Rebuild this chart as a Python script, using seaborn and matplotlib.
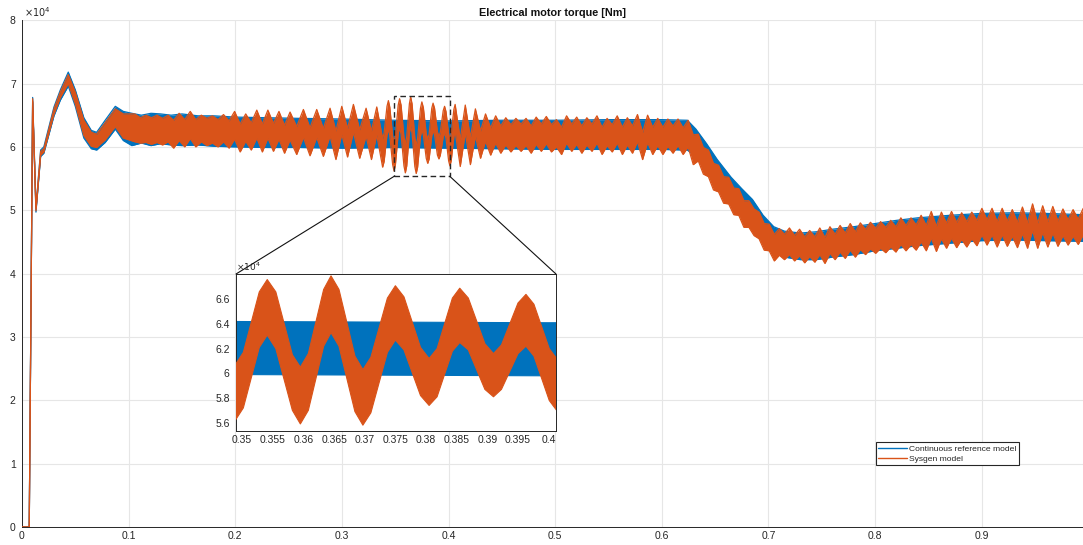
"""
Electrical motor torque: continuous reference model vs Sysgen model,
with a zoomed inset around t = 0.35 .. 0.40 s.

Output
------
out.png
"""

# =============================================================================
# IMPORTS
# =============================================================================

import matplotlib
matplotlib.use("Agg")
import matplotlib.pyplot as plt
from matplotlib.patches import Rectangle, ConnectionPatch
import seaborn as sns

# =============================================================================
# DATA  (torque in units of 1e4 Nm)
# The signals are dense ripples, so each one is kept as the upper / lower
# edge of its band at a set of knot times (crests and troughs of the beat).
# =============================================================================

# Continuous reference model (blue)
ref_t = [
    0.0000, 0.0068, 0.0100, 0.0131, 0.0175, 0.0205, 0.0300, 0.0360,
    0.0434, 0.0500, 0.0580, 0.0650, 0.0700, 0.0780, 0.0875, 0.0950,
    0.1030, 0.1120, 0.1210, 0.1300, 0.1400, 0.1500, 0.1650, 0.1800,
    0.2000, 0.2300, 0.2600, 0.3000, 0.3500, 0.4000, 0.4500, 0.5000,
    0.5500, 0.6000, 0.6240, 0.6320, 0.6420, 0.6520, 0.6650, 0.6750,
    0.6850, 0.6950, 0.7050, 0.7150, 0.7300, 0.7450, 0.7600, 0.7800,
    0.8000, 0.8200, 0.8400, 0.8700, 0.9000, 0.9300, 0.9600, 0.9950,
]
ref_hi = [
    0.00, 0.00, 6.78, 5.05, 5.95, 6.00, 6.63, 6.90,
    7.18, 6.90, 6.46, 6.26, 6.23, 6.42, 6.64, 6.56,
    6.53, 6.50, 6.53, 6.52, 6.50, 6.52, 6.49, 6.49,
    6.47, 6.46, 6.45, 6.44, 6.42, 6.41, 6.42, 6.42,
    6.43, 6.43, 6.42, 6.28, 6.05, 5.80, 5.52, 5.34,
    5.17, 4.92, 4.74, 4.67, 4.64, 4.66, 4.70, 4.74,
    4.79, 4.84, 4.88, 4.92, 4.95, 4.96, 4.95, 4.93,
]
ref_lo = [
    0.00, 0.00, 6.70, 4.97, 5.85, 5.90, 6.49, 6.74,
    6.96, 6.64, 6.14, 5.97, 5.95, 6.07, 6.28, 6.10,
    6.02, 6.06, 6.02, 6.05, 6.03, 6.02, 6.03, 6.01,
    6.00, 5.99, 5.99, 5.98, 5.99, 5.98, 5.97, 5.96,
    5.96, 5.96, 5.95, 5.84, 5.62, 5.36, 5.08, 4.93,
    4.78, 4.50, 4.33, 4.26, 4.22, 4.22, 4.26, 4.30,
    4.36, 4.40, 4.44, 4.48, 4.52, 4.53, 4.52, 4.51,
]

# Sysgen model (orange)
sg_t = [
    0.0000, 0.0068, 0.0100, 0.0131, 0.0175, 0.0205, 0.0300, 0.0360,
    0.0434, 0.0500, 0.0580, 0.0650, 0.0700, 0.0780, 0.0875, 0.0950,
    0.1058, 0.1110, 0.1162, 0.1214, 0.1266, 0.1318, 0.1370, 0.1422, 0.1474, 0.1526,
    0.1578, 0.1630, 0.1682, 0.1734, 0.1786, 0.1838, 0.1890, 0.1942, 0.1994, 0.2046,
    0.2098, 0.2150, 0.2202, 0.2254, 0.2306, 0.2358, 0.2410, 0.2462, 0.2514, 0.2576,
    0.2639, 0.2701, 0.2764, 0.2826, 0.2889, 0.2944, 0.2999, 0.3053, 0.3108, 0.3167,
    0.3227, 0.3277,
    0.3327, 0.3382, 0.3396, 0.3423, 0.3436, 0.3449, 0.3476, 0.3489, 0.3502, 0.3528,
    0.3541, 0.3555, 0.3582, 0.3595, 0.3608, 0.3633, 0.3645, 0.3658, 0.3684, 0.3697,
    0.3710, 0.3737, 0.3750, 0.3764, 0.3791, 0.3805, 0.3818, 0.3843, 0.3855, 0.3869,
    0.3896, 0.3910, 0.3923, 0.3950, 0.3963, 0.3976, 0.4001, 0.4013, 0.4025, 0.4050,
    0.4062,
    0.4110, 0.4157, 0.4205, 0.4252, 0.4300, 0.4347, 0.4395, 0.4442, 0.4490, 0.4537,
    0.4585, 0.4632, 0.4680, 0.4727, 0.4775, 0.4822, 0.4870, 0.4917, 0.4965, 0.5012,
    0.5060, 0.5107, 0.5155, 0.5202, 0.5250, 0.5297, 0.5345, 0.5392, 0.5440, 0.5487,
    0.5535, 0.5582, 0.5630, 0.5677, 0.5725, 0.5772, 0.5820, 0.5867, 0.5915, 0.5962,
    0.6010, 0.6057, 0.6105, 0.6152, 0.6200, 0.6247,
    0.6295, 0.6342, 0.6390, 0.6437, 0.6485, 0.6532, 0.6580, 0.6627, 0.6675, 0.6722,
    0.6770, 0.6817, 0.6865, 0.6912, 0.6960, 0.7007, 0.7055, 0.7102, 0.7150, 0.7197,
    0.7245, 0.7292, 0.7340, 0.7387, 0.7435, 0.7482, 0.7530, 0.7577, 0.7625, 0.7672,
    0.7720, 0.7767, 0.7815, 0.7862, 0.7910, 0.7957, 0.8005, 0.8052, 0.8100, 0.8147,
    0.8195, 0.8242, 0.8290, 0.8337, 0.8385, 0.8432, 0.8480, 0.8527, 0.8575, 0.8622,
    0.8670, 0.8717, 0.8765, 0.8812, 0.8860, 0.8907, 0.8955, 0.9002, 0.9050, 0.9097,
    0.9145, 0.9192, 0.9240, 0.9287, 0.9335, 0.9382, 0.9430, 0.9477, 0.9525, 0.9572,
    0.9620, 0.9667, 0.9715, 0.9762, 0.9810, 0.9857, 0.9905, 0.9952,
]
sg_hi = [
    0.00, 0.00, 6.76, 5.03, 5.93, 5.97, 6.60, 6.87,
    7.14, 6.86, 6.42, 6.23, 6.20, 6.38, 6.60, 6.52,
    6.52, 6.46, 6.50, 6.46, 6.50, 6.45, 6.50, 6.42, 6.53, 6.43,
    6.56, 6.43, 6.50, 6.45, 6.49, 6.43, 6.51, 6.41, 6.56, 6.36,
    6.52, 6.38, 6.58, 6.36, 6.58, 6.37, 6.56, 6.34, 6.55, 6.32,
    6.59, 6.30, 6.59, 6.29, 6.61, 6.25, 6.64, 6.29, 6.67, 6.27,
    6.61, 6.25,
    6.63, 6.13, 6.22, 6.64, 6.73, 6.63, 6.17, 6.07, 6.17, 6.66,
    6.76, 6.66, 6.15, 6.05, 6.16, 6.68, 6.79, 6.68, 6.14, 6.03,
    6.13, 6.61, 6.71, 6.62, 6.21, 6.12, 6.20, 6.61, 6.69, 6.61,
    6.24, 6.16, 6.23, 6.57, 6.64, 6.56, 6.20, 6.12, 6.20, 6.59,
    6.67,
    6.12, 6.66, 6.15, 6.60, 6.25, 6.52, 6.30, 6.49, 6.33, 6.46,
    6.35, 6.45, 6.36, 6.45, 6.33, 6.47, 6.36, 6.48, 6.35, 6.43,
    6.31, 6.49, 6.36, 6.47, 6.33, 6.46, 6.36, 6.49, 6.31, 6.45,
    6.35, 6.49, 6.31, 6.46, 6.33, 6.51, 6.23, 6.50, 6.31, 6.45,
    6.31, 6.44, 6.33, 6.44, 6.30, 6.42,
    6.19, 6.20, 5.99, 5.95, 5.74, 5.71, 5.53, 5.52, 5.35, 5.34,
    5.15, 5.15, 5.02, 4.97, 4.79, 4.78, 4.62, 4.71, 4.62, 4.72,
    4.60, 4.70, 4.58, 4.68, 4.58, 4.72, 4.57, 4.74, 4.62, 4.76,
    4.64, 4.79, 4.66, 4.80, 4.70, 4.81, 4.72, 4.82, 4.73, 4.84,
    4.74, 4.88, 4.76, 4.88, 4.77, 4.92, 4.76, 4.98, 4.75, 4.97,
    4.80, 4.98, 4.81, 4.96, 4.82, 4.97, 4.84, 5.03, 4.85, 5.03,
    4.82, 5.03, 4.83, 5.01, 4.81, 5.05, 4.80, 5.10, 4.80, 5.07,
    4.82, 5.06, 4.83, 5.02, 4.85, 5.01, 4.86, 5.03,
]
sg_lo = [
    0.00, 0.00, 6.72, 4.99, 5.87, 5.92, 6.52, 6.78,
    7.00, 6.68, 6.18, 6.01, 5.99, 6.11, 6.32, 6.14,
    6.08, 6.06, 6.07, 6.04, 6.07, 6.03, 6.08, 5.98, 6.10, 6.00,
    6.13, 6.00, 6.08, 6.02, 6.06, 6.00, 6.08, 5.98, 6.12, 5.92,
    6.09, 5.95, 6.14, 5.92, 6.14, 5.93, 6.12, 5.90, 6.11, 5.88,
    6.15, 5.86, 6.15, 5.85, 6.17, 5.80, 6.20, 5.84, 6.23, 5.82,
    6.17, 5.80,
    6.19, 5.68, 5.77, 6.19, 6.28, 6.18, 5.72, 5.62, 5.72, 6.21,
    6.31, 6.20, 5.70, 5.59, 5.70, 6.22, 6.33, 6.22, 5.69, 5.58,
    5.68, 6.17, 6.27, 6.19, 5.82, 5.74, 5.81, 6.18, 6.25, 6.19,
    5.87, 5.81, 5.87, 6.16, 6.22, 6.14, 5.78, 5.70, 5.78, 6.16,
    6.24,
    5.69, 6.22, 5.72, 6.17, 5.82, 6.09, 5.87, 6.06, 5.90, 6.03,
    5.92, 6.02, 5.93, 6.02, 5.90, 6.04, 5.93, 6.05, 5.92, 6.00,
    5.88, 6.06, 5.93, 6.04, 5.90, 6.03, 5.93, 6.06, 5.88, 6.02,
    5.92, 6.06, 5.88, 6.03, 5.90, 6.08, 5.80, 6.07, 5.88, 6.02,
    5.88, 6.01, 5.90, 6.02, 5.88, 6.00,
    5.72, 5.78, 5.57, 5.53, 5.32, 5.29, 5.11, 5.10, 4.93, 4.92,
    4.73, 4.73, 4.60, 4.55, 4.37, 4.36, 4.20, 4.29, 4.22, 4.30,
    4.20, 4.28, 4.17, 4.27, 4.18, 4.30, 4.16, 4.32, 4.22, 4.34,
    4.24, 4.37, 4.26, 4.38, 4.30, 4.39, 4.32, 4.40, 4.33, 4.42,
    4.34, 4.46, 4.36, 4.46, 4.37, 4.50, 4.36, 4.56, 4.35, 4.55,
    4.40, 4.56, 4.41, 4.54, 4.42, 4.55, 4.44, 4.61, 4.45, 4.61,
    4.42, 4.61, 4.43, 4.59, 4.41, 4.63, 4.40, 4.68, 4.40, 4.65,
    4.42, 4.64, 4.43, 4.60, 4.45, 4.59, 4.46, 4.61,
]

series_labels = ["Continuous reference model", "Sysgen model"]

# Axis ticks
main_xticks = [0, 0.1, 0.2, 0.3, 0.4, 0.5, 0.6, 0.7, 0.8, 0.9]
main_xticklabels = ["0", "0.1", "0.2", "0.3", "0.4", "0.5", "0.6", "0.7", "0.8", "0.9"]
main_yticks = [0, 1, 2, 3, 4, 5, 6, 7, 8]

inset_xticks = [0.35, 0.355, 0.36, 0.365, 0.37, 0.375, 0.38, 0.385, 0.39, 0.395, 0.4]
inset_xticklabels = ["0.35", "0.355", "0.36", "0.365", "0.37", "0.375",
                     "0.38", "0.385", "0.39", "0.395", "0.4"]
inset_yticks = [5.6, 5.8, 6.0, 6.2, 6.4, 6.6]
inset_yticklabels = ["5.6", "5.8", "6", "6.2", "6.4", "6.6"]

# Zoom window (also the dashed box on the main axes)
zoom_x = (0.349, 0.4012)
zoom_y = (5.535, 6.805)

# =============================================================================
# STYLE
# =============================================================================

sns.set_style("white")
plt.rcParams["font.family"] = ["Liberation Sans", "DejaVu Sans"]

REF_COLOR = "#0072BD"
SG_COLOR = "#D95319"
AX_COLOR = "#262626"
GRID_COLOR = "#e6e6e6"


def style_axes(ax, fontsize):
    ax.tick_params(
        direction="in",
        length=3.5,
        width=0.6,
        colors=AX_COLOR,
        labelsize=fontsize,
    )
    ax.tick_params(axis="x", pad=3)
    ax.tick_params(axis="y", pad=4.5)
    for side in ["left", "bottom", "top", "right"]:
        ax.spines[side].set_color(AX_COLOR)
        ax.spines[side].set_linewidth(0.7)


def draw_signals(ax, edge_lw):
    """Fill both bands and trace their edges."""
    ax.fill_between(ref_t, ref_lo, ref_hi, color=REF_COLOR, lw=0, zorder=2)
    sns.lineplot(x=ref_t, y=ref_hi, ax=ax, color=REF_COLOR, lw=edge_lw,
                 sort=False, estimator=None, label=series_labels[0], zorder=2)
    sns.lineplot(x=ref_t, y=ref_lo, ax=ax, color=REF_COLOR, lw=edge_lw,
                 sort=False, estimator=None, zorder=2)

    ax.fill_between(sg_t, sg_lo, sg_hi, color=SG_COLOR, lw=0, zorder=3)
    sns.lineplot(x=sg_t, y=sg_hi, ax=ax, color=SG_COLOR, lw=edge_lw,
                 sort=False, estimator=None, label=series_labels[1], zorder=3)
    sns.lineplot(x=sg_t, y=sg_lo, ax=ax, color=SG_COLOR, lw=edge_lw,
                 sort=False, estimator=None, zorder=3)


# =============================================================================
# MAIN AXES
# =============================================================================

fig = plt.figure(figsize=(10.83, 5.45), dpi=100)

ax = fig.add_axes([0.0203, 0.033, 0.9797, 0.930])

draw_signals(ax, edge_lw=0.9)

ax.set_xlim(0, 0.995)
ax.set_ylim(0, 8)
ax.set_xticks(main_xticks)
ax.set_xticklabels(main_xticklabels)
ax.set_yticks(main_yticks)
ax.set_yticklabels([str(v) for v in main_yticks])
ax.grid(True, color=GRID_COLOR, lw=0.8, zorder=0)
ax.set_axisbelow(True)
ax.set_xlabel("")
ax.set_ylabel("")

style_axes(ax, 7.5)
ax.spines["top"].set_visible(False)
ax.spines["right"].set_visible(False)

ax.set_title(
    "Electrical motor torque [Nm]",
    fontsize=7.8,
    fontweight="bold",
    color="#111111",
    pad=3,
)

ax.text(0.0015, 1.002, r"$\times10^{4}$", transform=ax.transAxes,
        fontsize=7, color=AX_COLOR, ha="left", va="bottom")

leg = ax.legend(
    loc="lower left",
    bbox_to_anchor=(0.8045, 0.122),
    fontsize=6.1,
    frameon=True,
    fancybox=False,
    handlelength=3.4,
    handletextpad=0.3,
    borderpad=0.3,
    labelspacing=0.25,
    borderaxespad=0,
)
leg.get_frame().set_edgecolor(AX_COLOR)
leg.get_frame().set_linewidth(0.8)
leg.get_frame().set_alpha(1)
for line in leg.get_lines():
    line.set_linewidth(1.0)

# Dashed zoom box
ax.add_patch(Rectangle(
    (zoom_x[0], zoom_y[0]),
    zoom_x[1] - zoom_x[0],
    zoom_y[1] - zoom_y[0],
    fill=False, ls=(0, (4, 2.5)), ec=AX_COLOR, lw=1.0, zorder=5,
))

# =============================================================================
# INSET
# =============================================================================

axins = fig.add_axes([0.2179, 0.2097, 0.2955, 0.2875])
axins.set_facecolor("white")

draw_signals(axins, edge_lw=0.8)
if axins.get_legend() is not None:
    axins.get_legend().remove()

axins.set_xlim(*zoom_x)
axins.set_ylim(*zoom_y)
axins.set_xticks(inset_xticks)
axins.set_xticklabels(inset_xticklabels)
axins.set_yticks(inset_yticks)
axins.set_yticklabels(inset_yticklabels)
axins.set_xlabel("")
axins.set_ylabel("")
axins.grid(False)
style_axes(axins, 7.5)

axins.text(0.0, 1.005, r"$\times10^{4}$", transform=axins.transAxes,
           fontsize=6.5, color=AX_COLOR, ha="left", va="bottom")

# Connector lines from the dashed box down to the inset corners
for xa, xb in [(0, zoom_x[0]), (1, zoom_x[1])]:
    con = ConnectionPatch(
        xyA=(xa, 1), coordsA=axins.transAxes,
        xyB=(xb, zoom_y[0]), coordsB=ax.transData,
        color="#111111", lw=0.8,
    )
    fig.add_artist(con)

fig.savefig("out.png", dpi=100)
print("Saved: out.png")
